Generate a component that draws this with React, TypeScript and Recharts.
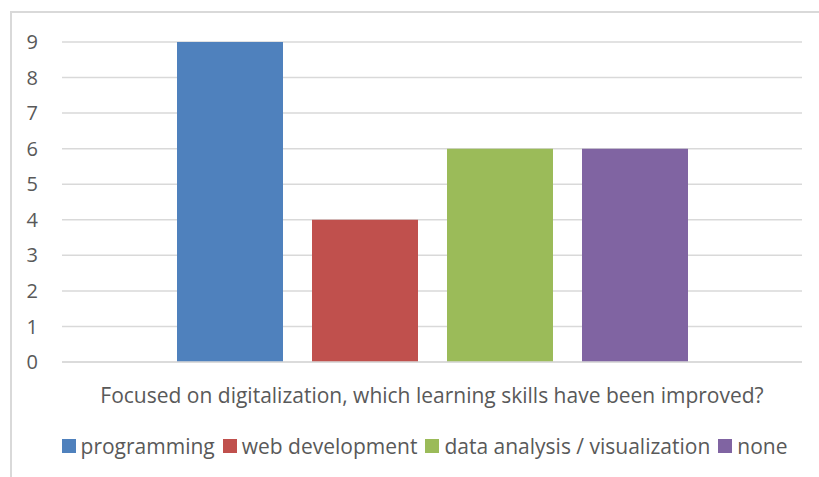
import { BarChart, Bar, XAxis, YAxis, CartesianGrid, Legend } from "recharts";

const category = "Focused on digitalization, which learning skills have been improved?";
const seriesNames = ["programming", "web development", "data analysis / visualization", "none"];
const seriesValues = [9, 4, 6, 6];
const seriesColors = ["#4f81bd", "#c0504d", "#9bbb59", "#8064a2"];
const yTicks = [0, 1, 2, 3, 4, 5, 6, 7, 8, 9];

const row: Record<string, string | number> = { name: category };
seriesNames.forEach((s, i) => {
  row[s] = seriesValues[i];
});
const data = [row];

const font = "'Open Sans', 'Noto Sans', sans-serif";
const grey = "#595959";

const LegendContent = () => (
  <div
    style={{
      display: "flex",
      justifyContent: "center",
      alignItems: "center",
      fontFamily: font,
      fontSize: 21,
      color: grey,
      gap: 8,
      height: 28,
    }}
  >
    {seriesNames.map((s, i) => (
      <span key={s} style={{ display: "flex", alignItems: "center" }}>
        <span
          style={{ width: 14, height: 14, background: seriesColors[i], display: "inline-block", marginRight: 5 }}
        />
        {s}
      </span>
    ))}
  </div>
);

const App = () => {
  return (
    <div style={{ position: "fixed", left: 0, top: 0, width: 819, height: 477, overflow: "hidden", background: "#fff" }}>
      <div
        style={{
          position: "absolute",
          left: 10,
          top: 11,
          width: 900,
          height: 600,
          border: "2px solid #d9d9d9",
        }}
      />
      <div style={{ position: "absolute", left: 8, top: 8 }}>
        <BarChart
          width={811}
          height={469}
          data={data}
          margin={{ top: 34, right: 17, bottom: 27, left: 0 }}
          barCategoryGap={115}
          barGap={29}
        >
          <CartesianGrid vertical={false} stroke="#d9d9d9" strokeWidth={1.5} />
          <XAxis
            dataKey="name"
            axisLine={{ stroke: "#d9d9d9", strokeWidth: 1.5 }}
            tickLine={false}
            tickMargin={20}
            tick={{ fill: grey, fontSize: 21, fontFamily: font }}
            height={60}
          />
          <YAxis
            width={54}
            domain={[0, 9]}
            ticks={yTicks}
            axisLine={false}
            tickLine={false}
            tickSize={0}
            tickMargin={24}
            tick={{ fill: grey, fontSize: 20, fontFamily: font }}
          />
          {seriesNames.map((s, i) => (
            <Bar key={s} dataKey={s} fill={seriesColors[i]} isAnimationActive={false} />
          ))}
          <Legend content={<LegendContent />} wrapperStyle={{ top: 424, left: 22, width: 789 }} />
        </BarChart>
      </div>
    </div>
  );
};

export default App;
